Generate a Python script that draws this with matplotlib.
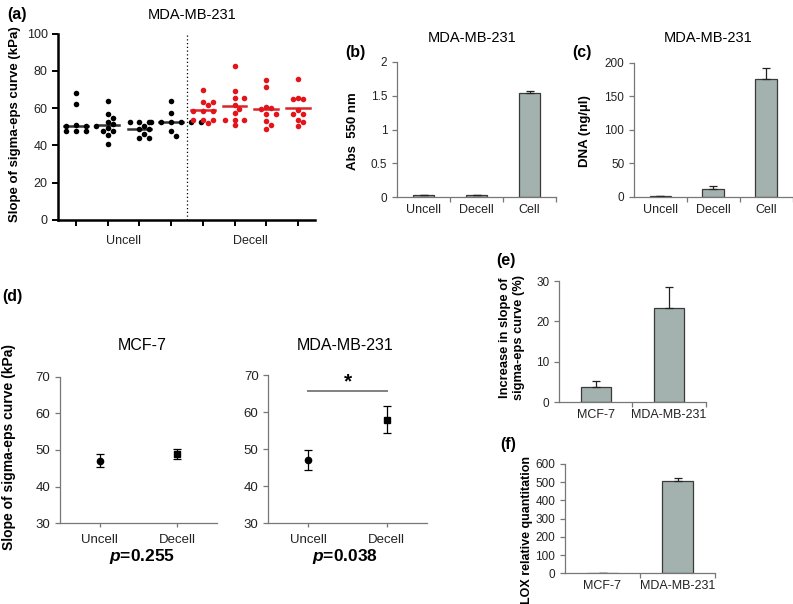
"""
multi-panel figure: stiffness of matrices, MDA-MB-231 / MCF-7
"""

import numpy as np
import matplotlib
matplotlib.use('Agg')
import matplotlib.pyplot as plt
from matplotlib.ticker import FormatStrFormatter

plt.rcParams['font.family'] = ['Liberation Sans', 'DejaVu Sans']
plt.rcParams['mathtext.fontset'] = 'custom'
plt.rcParams['mathtext.rm'] = 'Liberation Sans'
plt.rcParams['mathtext.bf'] = 'Liberation Sans:bold'
plt.rcParams['mathtext.bfit'] = 'Liberation Sans:italic:bold'

W, H = 793, 604

# (a) individual measurements, 4 uncell + 4 decell samples
uncell_a = [
    [68, 62, 50.8, 50.6, 50.5, 50.3, 47.8, 47.6, 47.5],
    [63.6, 56.6, 54.6, 52.5, 51.6, 49.3, 47.7, 47.5, 45.7, 40.9],
    [52.3, 52.3, 52.3, 50.2, 48.6, 48.6, 46.3, 44.1, 44.1],
    [63.6, 57.3, 52.5, 52.5, 52.5, 52.5, 52.5, 52.5, 47.5, 45.0],
]
decell_a = [
    [69.5, 63.2, 63.2, 61.8, 58.5, 58.5, 58.5, 53.8, 53.4, 53.4, 52.2],
    [82.5, 69.1, 65.4, 65.4, 61.4, 59.7, 57.3, 53.4, 53.4, 53.4, 50.7],
    [75.2, 71.3, 60.5, 59.8, 59.3, 56.6, 56.6, 53.0, 51.0, 48.6],
    [75.4, 65.5, 64.7, 64.7, 58.8, 56.6, 56.6, 53.4, 52.5, 50.2],
]
medians_a = [50.3, 50.7, 48.6, 52.8, 58.8, 61.1, 59.3, 60.0]

# (b) and (c)
cats_bc = ['Uncell', 'Decell', 'Cell']
abs_550 = [0.03, 0.04, 1.545]
abs_err = [0.0, 0.0, 0.03]
dna = [0.5, 11, 175.7]
dna_err = [0.0, 5, 16]

# (d) mean +- sd
cats_d = ['Uncell', 'Decell']
mcf7_mean = [47.1, 48.9]
mcf7_err = [1.8, 1.4]
mda_mean = [47.0, 58.0]
mda_err = [2.7, 3.6]

# (e) and (f)
cells_ef = ['MCF-7', 'MDA-MB-231']
increase = [3.7, 23.3]
increase_err = [1.6, 5.2]
lox = [1.0, 508]
lox_err = [0.0, 13]


def px_axes(l, t, r, b):
    return fig.add_axes([l / W, 1 - b / H, (r - l) / W, (b - t) / H])


def ptext(x, y, s, **kw):
    fig.text(x / W, 1 - y / H, s, ha='center', va='center', **kw)


def swarm(vals, d=0.155, ypx=1.865, xpx=31.7, diam=5.0):
    # simple beeswarm: push a dot sideways until it no longer touches the others
    placed = []
    offs = []
    for v in vals:
        cands = [0.0]
        for i in range(1, 8):
            cands += [i * d, -i * d]
        for c in cands:
            ok = True
            for (px, py) in placed:
                dx = (c - px) * xpx
                dy = (v - py) * ypx
                if dx * dx + dy * dy < diam * diam:
                    ok = False
                    break
            if ok:
                break
        placed.append((c, v))
        offs.append(c)
    return offs


def excel_style(ax, fs=8.5):
    for s in ['top', 'right']:
        ax.spines[s].set_visible(False)
    for s in ['left', 'bottom']:
        ax.spines[s].set_color('#777777')
        ax.spines[s].set_linewidth(0.9)
    ax.tick_params(axis='both', which='major', color='#777777', length=3.5,
                   width=0.9, labelsize=fs, labelcolor='#222222')


def bar_panel(ax, cats, vals, errs, ymax, ystep, fs=9, yfs=8.5):
    x = np.arange(1, len(cats) + 1)
    ax.bar(x, vals, width=0.41, color='#a3b1af', edgecolor='#3a3a3a', linewidth=0.9)
    ax.errorbar(x, vals, yerr=[np.zeros(len(errs)), errs], fmt='none',
                ecolor='#222222', elinewidth=0.9, capsize=3, capthick=0.9)
    ax.set_xlim(0.5, len(cats) + 0.5)
    ax.set_ylim(0, ymax)
    ax.set_yticks(np.arange(0, ymax + ystep / 2, ystep))
    ax.yaxis.set_major_formatter(FormatStrFormatter('%g'))
    ax.set_xticks(np.arange(1.5, len(cats) + 0.6, 1))
    ax.set_xticklabels([])
    ax.set_xticks(x, minor=True)
    ax.set_xticklabels(cats, minor=True, fontsize=fs, color='#222222')
    ax.tick_params(axis='x', which='minor', length=0, pad=5)
    excel_style(ax, yfs)


fig = plt.figure(figsize=(W / 100, H / 100), dpi=100)

# ---------------- (a)
ax = px_axes(58, 33.5, 315, 220)
groups = uncell_a + decell_a
for i, g in enumerate(groups):
    c = 'black' if i < 4 else '#e3151b'
    lc = '#333333' if i < 4 else '#d9262b'
    offs = swarm(g)
    ax.scatter(np.array(offs) + i + 1, g, s=16, color=c, linewidths=0, zorder=3)
    ax.plot([i + 1 - 0.37, i + 1 + 0.37], [medians_a[i]] * 2, color=lc, lw=1.8, zorder=2)
ax.axvline(4.5, color='black', lw=0.9, ls=(0, (1, 2)))
ax.set_xlim(0.43, 8.54)
ax.set_ylim(0, 100)
ax.set_yticks(range(0, 101, 20))
ax.set_xticks(range(1, 9))
ax.set_xticklabels([])
ax.set_xticks([2.5, 6.5], minor=True)
ax.set_xticklabels(['Uncell', 'Decell'], minor=True, fontsize=9, color='#222222')
ax.tick_params(axis='x', which='minor', length=0, pad=11)
for s in ['top', 'right']:
    ax.spines[s].set_visible(False)
for s in ['left', 'bottom']:
    ax.spines[s].set_linewidth(1.8)
ax.tick_params(axis='both', which='major', length=4, width=1.4, labelsize=9,
               labelcolor='#222222')
ptext(17, 14, '(a)', fontsize=11.5, fontweight='bold')
ptext(192, 15, 'MDA-MB-231', fontsize=10.5)
ptext(15, 124, 'Slope of sigma-eps curve (kPa)', fontsize=9.5, fontweight='bold', rotation=90)

# ---------------- (b)
ax = px_axes(397, 61.7, 556, 197.3)
bar_panel(ax, cats_bc, abs_550, abs_err, 2, 0.5)
ptext(355, 53, '(b)', fontsize=11.5, fontweight='bold')
ptext(472, 38, 'MDA-MB-231', fontsize=10.5)
ptext(353, 131, 'Abs  550 nm', fontsize=9.5, fontweight='bold', rotation=90)

# ---------------- (c)
ax = px_axes(634, 62.7, 792.5, 196.7)
bar_panel(ax, cats_bc, dna, dna_err, 200, 50)
ptext(582, 53, '(c)', fontsize=11.5, fontweight='bold')
ptext(708, 38, 'MDA-MB-231', fontsize=10.5)
ptext(585, 131, 'DNA (ng/\u00b5l)', fontsize=9.5, fontweight='bold', rotation=90)

# ---------------- (d)
for (l, r, top, title, means, errs, xp, pstr) in [
        (60, 216.7, 376.7, 'MCF-7', mcf7_mean, mcf7_err, 142, '0.255'),
        (268.3, 426.7, 375.3, 'MDA-MB-231', mda_mean, mda_err, 345, '0.038')]:
    ax = px_axes(l, top, r, 523.3)
    ax.errorbar([1], means[0], yerr=errs[0], fmt='o', color='black', ms=4.5,
                elinewidth=0.9, capsize=3, capthick=0.9)
    ax.errorbar([2], means[1], yerr=errs[1], fmt='s', color='black', ms=4.5,
                elinewidth=0.9, capsize=3, capthick=0.9)
    ax.set_xlim(0.49, 2.51)
    ax.set_ylim(30, 70)
    ax.set_yticks(range(30, 71, 10))
    ax.set_xticks([1, 2])
    ax.set_xticklabels(cats_d)
    excel_style(ax, 9.5)
    ax.tick_params(axis='x', length=3, pad=5)
    ptext(xp, 345, title, fontsize=11.5)
    ptext(xp, 557, r'$\mathbfit{p}$=' + pstr, fontsize=12.5, fontweight='bold')
    if title == 'MDA-MB-231':
        ax.plot([1, 2], [65.8, 65.8], color='#808080', lw=1.4)
        ax.text(1.5, 68.3, '*', ha='center', va='center', fontsize=15, fontweight='bold')
ptext(12, 296, '(d)', fontsize=11.5, fontweight='bold')
ptext(9, 447, 'Slope of sigma-eps curve (kPa)', fontsize=10, fontweight='bold', rotation=90)

# ---------------- (e)
ax = px_axes(559, 281, 705.7, 402.3)
bar_panel(ax, cells_ef, increase, increase_err, 30, 10, fs=9)
ptext(506, 261, '(e)', fontsize=11.5, fontweight='bold')
ptext(512, 338, 'Increase in slope of\nsigma-eps curve (%)', fontsize=9.3,
      fontweight='bold', rotation=90, linespacing=1.3)

# ---------------- (f)
ax = px_axes(565, 464, 715, 573.3)
bar_panel(ax, cells_ef, lox, lox_err, 600, 100, fs=9)
ptext(508, 444, '(f)', fontsize=11.5, fontweight='bold')
ptext(527, 530, 'LOX relative quantitation', fontsize=9, fontweight='bold', rotation=90)

fig.savefig('out.png', dpi=100)
